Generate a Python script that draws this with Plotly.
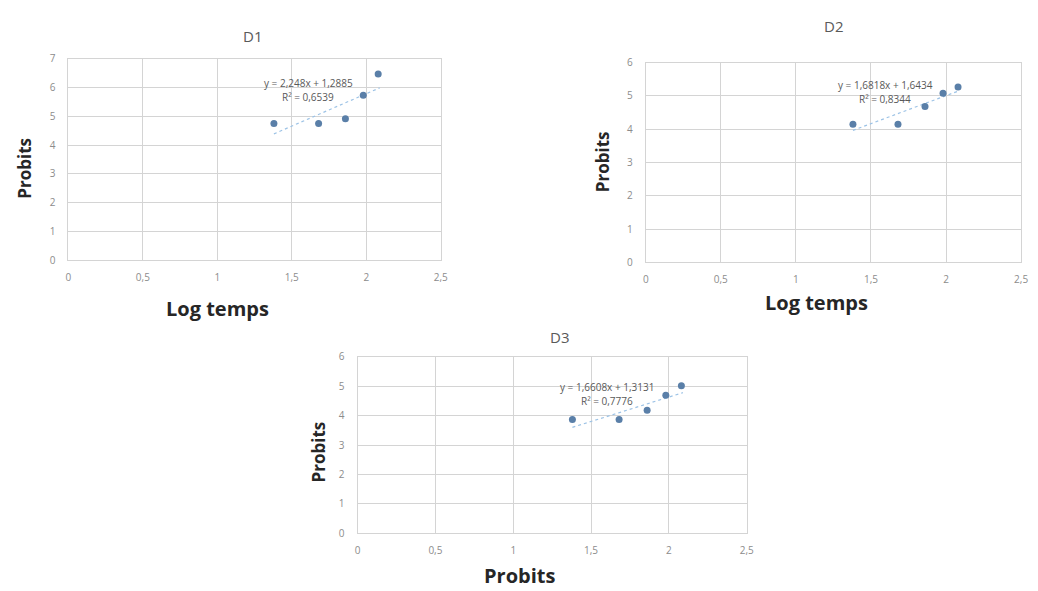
import plotly.graph_objects as go

# Data
log_temps = [1.38, 1.68, 1.86, 1.98, 2.08]
probits_d1 = [4.75, 4.75, 4.92, 5.73, 6.47]
probits_d2 = [4.15, 4.15, 4.68, 5.08, 5.27]
probits_d3 = [3.87, 3.87, 4.19, 4.70, 5.02]
slopes = [2.248, 1.6818, 1.6608]
intercepts = [1.2885, 1.6434, 1.3131]
equations = ["y = 2,248x + 1,2885", "y = 1,6818x + 1,6434", "y = 1,6608x + 1,3131"]
r2_labels = ["R² = 0,6539", "R² = 0,8344", "R² = 0,7776"]
titles = ["D1", "D2", "D3"]
x_titles = ["Log temps", "Log temps", "Probits"]
y_title = "Probits"
y_max = [7, 6, 6]

W, H = 1038, 591
# plot-area boxes in pixels: (left, right, top, bottom)
boxes = [(66, 442, 52, 259), (649, 1028, 56, 261), (358, 751, 358, 539)]
title_pos = [(252, 29), (839, 18), (562, 338)]
xt_pos = [(217, 308), (821, 302), (522, 582)]
yt_pos = [(22, 164), (606, 158), (319, 455)]
eq_pos = [(308, 77, 91), (891, 79, 93), (610, 389, 403)]

series = [probits_d1, probits_d2, probits_d3]

fig = go.Figure()
FONT = "Open Sans"


def note(x, y, text, size, color, angle=0):
    fig.add_annotation(x=x / W, y=1 - y / H, xref="paper", yref="paper", text=text,
                       showarrow=False, xanchor="center", yanchor="middle",
                       textangle=angle, font=dict(family=FONT, size=size, color=color))


for i in range(3):
    ax = "" if i == 0 else str(i + 1)
    xa, ya = "x" + ax, "y" + ax
    # trendline
    xs = [min(log_temps), max(log_temps) + 0.01]
    ys = [slopes[i] * v + intercepts[i] for v in xs]
    fig.add_trace(go.Scatter(x=xs, y=ys, mode="lines", xaxis=xa, yaxis=ya,
                             line=dict(color="#9DC3E6", width=1.2, dash="dot"),
                             showlegend=False, hoverinfo="skip"))
    fig.add_trace(go.Scatter(x=log_temps, y=series[i], mode="markers", xaxis=xa, yaxis=ya,
                             marker=dict(color="#5A7FA8", size=7),
                             showlegend=False))
    l, r, t, b = boxes[i]
    common = dict(showgrid=True, gridcolor="#D4D4D4", gridwidth=1, showline=True,
                  linecolor="#D4D4D4", mirror=True, zeroline=False, ticks="",
                  tickfont=dict(family=FONT, size=10, color="#8C8C8C"))
    fig.update_layout(**{
        "xaxis" + ax: dict(domain=[l / W, r / W], range=[0, 2.5], dtick=0.5,
                           anchor=ya, ticklabelstandoff=8, **common),
        "yaxis" + ax: dict(domain=[1 - b / H, 1 - t / H], range=[0, y_max[i]], dtick=1,
                           anchor=xa, ticklabelstandoff=10, **common),
    })
    tx, ty = title_pos[i]
    note(tx, ty, titles[i], 15, "#595959")
    xx, xy = xt_pos[i]
    note(xx, xy, "<b>" + x_titles[i] + "</b>", 20, "#262626")
    yx, yy = yt_pos[i]
    note(yx, yy, "<b>" + y_title + "</b>", 17, "#262626", angle=-90)
    ex, ey1, ey2 = eq_pos[i]
    note(ex, ey1, equations[i], 10, "#595959")
    note(ex, ey2, r2_labels[i], 10, "#595959")

fig.update_layout(width=W, height=H, margin=dict(l=0, r=0, t=0, b=0),
                  paper_bgcolor="white", plot_bgcolor="white", separators=", ",
                  showlegend=False)
fig.write_html("out.html")
